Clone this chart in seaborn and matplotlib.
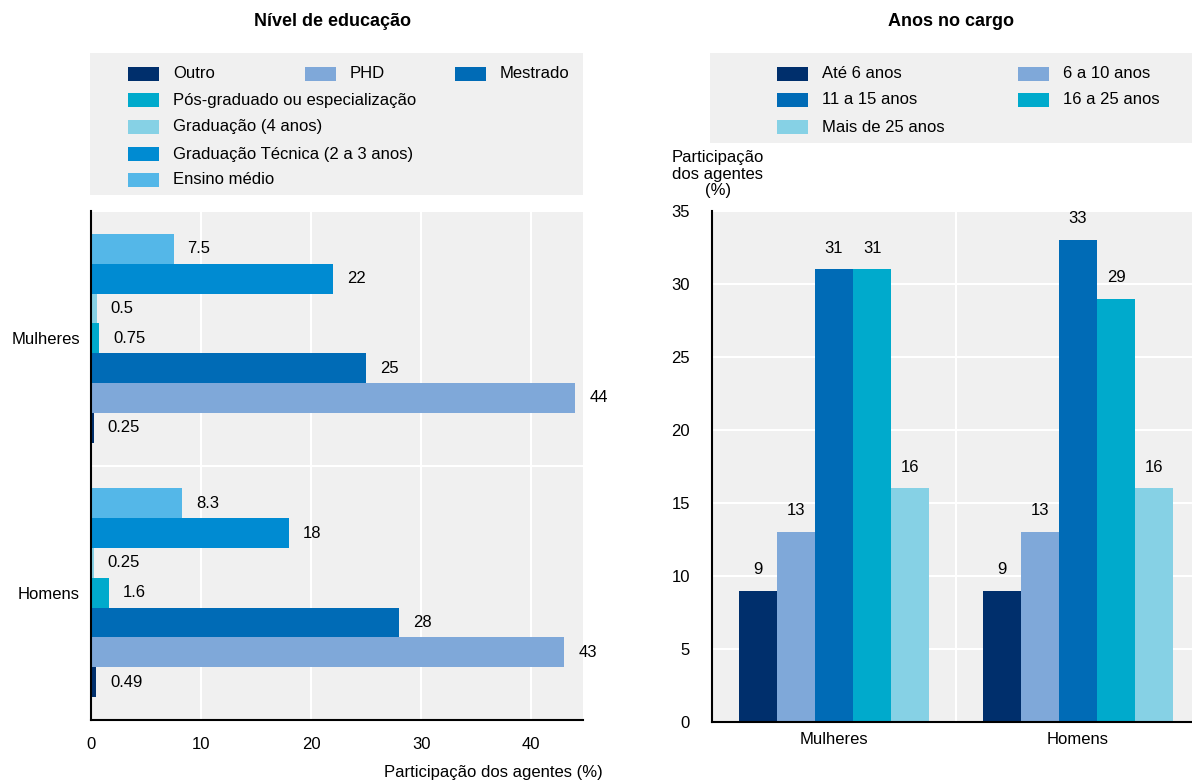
import matplotlib
matplotlib.use("Agg")
import matplotlib.pyplot as plt
from matplotlib.patches import Rectangle
import seaborn as sns
import pandas as pd
import numpy as np

sns.set_theme(style="white")
plt.rcParams['font.family'] = ['Liberation Sans Narrow', 'Liberation Sans', 'DejaVu Sans']
plt.rcParams['text.color'] = 'black'
plt.rcParams['axes.labelcolor'] = 'black'

# ---- data -------------------------------------------------------------
groups = ["Mulheres", "Homens"]

edu_levels = ["Ensino médio", "Graduação Técnica (2 a 3 anos)", "Graduação (4 anos)",
              "Pós-graduado ou especialização", "Mestrado", "PHD", "Outro"]
edu_mulheres = [7.5, 22, 0.5, 0.75, 25, 44, 0.25]
edu_homens = [8.3, 18, 0.25, 1.6, 28, 43, 0.49]
edu_colors = ["#54B7E8", "#008BD2", "#86D1E5", "#00AACC", "#006BB6", "#7FA8D9", "#002F6C"]

anos_levels = ["Até 6 anos", "6 a 10 anos", "11 a 15 anos", "16 a 25 anos", "Mais de 25 anos"]
anos_mulheres = [9, 13, 31, 31, 16]
anos_homens = [9, 13, 33, 29, 16]
anos_colors = ["#002F6C", "#7FA8D9", "#006BB6", "#00AACC", "#86D1E5"]

edu_df = pd.DataFrame({
    "grupo": np.repeat(groups, len(edu_levels)),
    "nivel": edu_levels * 2,
    "valor": edu_mulheres + edu_homens,
})
anos_df = pd.DataFrame({
    "grupo": np.repeat(groups, len(anos_levels)),
    "anos": anos_levels * 2,
    "valor": anos_mulheres + anos_homens,
})

# ---- figure geometry (pixels) -----------------------------------------
W, H = 1192, 782
BG = "#F0F0F0"
FS = 12


def fx(x):
    return x / W


def fy(y):
    return 1 - y / H


fig = plt.figure(figsize=(W / 100, H / 100), dpi=100)
ax1 = fig.add_axes([fx(91), fy(720), fx(583) - fx(91), fy(211) - fy(720)])
ax2 = fig.add_axes([fx(712), fy(722), fx(1192) - fx(712), fy(211) - fy(722)])

for ax in (ax1, ax2):
    ax.set_facecolor(BG)
    ax.set_axisbelow(True)
    for side in ("top", "right"):
        ax.spines[side].set_visible(False)
    for side in ("left", "bottom"):
        ax.spines[side].set_color("black")
        ax.spines[side].set_linewidth(1.5)

# ---- left panel: education level ---------------------------------------
sns.barplot(data=edu_df, y="grupo", x="valor", hue="nivel", hue_order=edu_levels,
            order=groups, palette=edu_colors, orient="h", width=0.82, errorbar=None,
            legend=False, saturation=1, linewidth=0, ax=ax1)
for cont, vm, vh in zip(ax1.containers, edu_mulheres, edu_homens):
    ax1.bar_label(cont, labels=[f"{vm:g}", f"{vh:g}"], padding=10, fontsize=FS,
                  color="black")

ax1.set_xlim(0, 44.7)
ax1.set_ylim(1.5, -0.5)
ax1.set_xticks([0, 10, 20, 30, 40])
ax1.set_yticks([0, 1])
ax1.set_yticklabels(groups)
ax1.set_yticks([-0.5, 0.5, 1.5], minor=True)
ax1.tick_params(axis="x", length=0, pad=12, labelsize=FS, colors="black")
ax1.tick_params(axis="y", which="major", length=0, pad=8, labelsize=FS, colors="black")
ax1.tick_params(axis="y", which="minor", direction="in", length=5, width=1.5, colors="black")
ax1.grid(False)
ax1.xaxis.grid(True, color="white", linewidth=1.5)
ax1.yaxis.grid(True, which="minor", color="white", linewidth=1.5)
ax1.set_xlabel("")
ax1.set_ylabel("")

# ---- right panel: years in office --------------------------------------
sns.barplot(data=anos_df, x="grupo", y="valor", hue="anos", hue_order=anos_levels,
            order=groups, palette=anos_colors, width=0.78, errorbar=None,
            legend=False, saturation=1, linewidth=0, ax=ax2)
for cont, vm, vh in zip(ax2.containers, anos_mulheres, anos_homens):
    ax2.bar_label(cont, labels=[f"{vm:g}", f"{vh:g}"], padding=10, fontsize=FS,
                  color="black")

ax2.set_xlim(-0.5, 1.467)
ax2.set_ylim(0, 35)
ax2.set_yticks(range(0, 36, 5))
ax2.set_xticks([0, 1])
ax2.set_xticklabels(groups)
ax2.set_xticks([0.5], minor=True)
ax2.tick_params(axis="y", direction="in", length=5, width=1.5, pad=16, labelsize=FS, colors="black")
ax2.tick_params(axis="x", which="major", length=0, pad=7, labelsize=FS, colors="black")
ax2.tick_params(axis="x", which="minor", direction="in", length=5, width=1.5, colors="black")
ax2.grid(False)
ax2.yaxis.grid(True, color="white", linewidth=1.5)
ax2.xaxis.grid(True, which="minor", color="white", linewidth=1.5)
ax2.set_xlabel("")
ax2.set_ylabel("")

# ---- titles and axis captions ------------------------------------------
fig.text(fx(332), fy(22), "Nível de educação", ha="center", va="center",
         fontsize=13, fontweight="bold")
fig.text(fx(951), fy(22), "Anos no cargo", ha="center", va="center",
         fontsize=13, fontweight="bold")
fig.text(fx(603), fy(772), "Participação dos agentes (%)", ha="right", va="center",
         fontsize=FS)
fig.text(fx(718), fy(174), "Participação\ndos agentes\n(%)", ha="center", va="center",
         fontsize=FS, linespacing=1.1)


# ---- legends -----------------------------------------------------------
def legend_box(x0, y0, x1, y1, entries):
    fig.patches.append(Rectangle((fx(x0), fy(y1)), fx(x1) - fx(x0), fy(y0) - fy(y1),
                                 transform=fig.transFigure, facecolor=BG,
                                 edgecolor="none", zorder=0))
    for sx, yy, color, label in entries:
        fig.patches.append(Rectangle((fx(sx), fy(yy + 7)), fx(31), 14 / H,
                                     transform=fig.transFigure, facecolor=color,
                                     edgecolor="none", zorder=1))
        fig.text(fx(sx + 45), fy(yy), label, ha="left", va="center", fontsize=FS)


rows = [74, 100, 127, 154, 180]
edu_color_of = dict(zip(edu_levels, edu_colors))
edu_legend = [
    (128, rows[0], edu_color_of["Outro"], "Outro"),
    (305, rows[0], edu_color_of["PHD"], "PHD"),
    (455, rows[0], edu_color_of["Mestrado"], "Mestrado"),
    (128, rows[1], edu_color_of["Pós-graduado ou especialização"], "Pós-graduado ou especialização"),
    (128, rows[2], edu_color_of["Graduação (4 anos)"], "Graduação (4 anos)"),
    (128, rows[3], edu_color_of["Graduação Técnica (2 a 3 anos)"], "Graduação Técnica (2 a 3 anos)"),
    (128, rows[4], edu_color_of["Ensino médio"], "Ensino médio"),
]
legend_box(90, 53, 583, 195, edu_legend)

anos_legend = [
    (777, rows[0], anos_colors[0], anos_levels[0]),
    (1018, rows[0], anos_colors[1], anos_levels[1]),
    (777, rows[1], anos_colors[2], anos_levels[2]),
    (1018, rows[1], anos_colors[3], anos_levels[3]),
    (777, rows[2], anos_colors[4], anos_levels[4]),
]
legend_box(710, 53, 1192, 143, anos_legend)

fig.savefig("out.png", dpi=100)
